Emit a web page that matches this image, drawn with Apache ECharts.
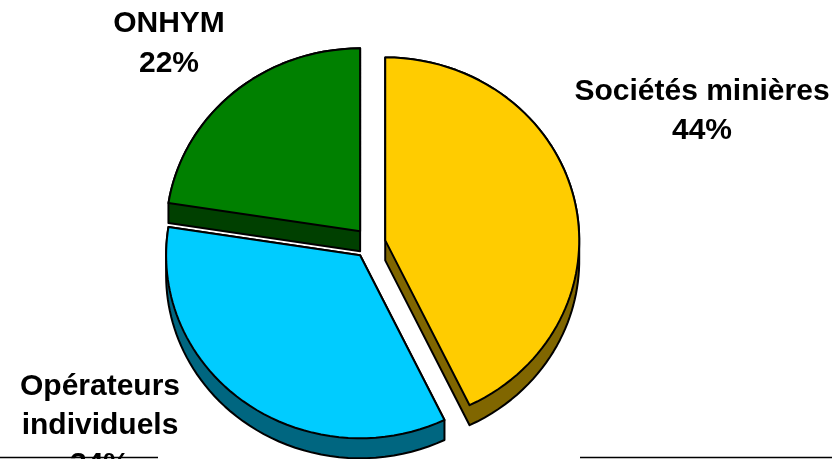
<!DOCTYPE html>
<html><head><meta charset="utf-8">
<script src="https://cdn.jsdelivr.net/npm/echarts@6/dist/echarts.min.js"></script>
<style>html,body{margin:0;padding:0;background:#fff}#c{width:832px;height:459px}</style>
</head><body><div id="c"></div>
<script>
// ---- data ----
const categories = ['Sociétés minières', 'Opérateurs\nindividuels', 'ONHYM'];
const values = [44, 34, 22];

// ---- layout / style ----
const layout = { cx: 370, cy: 243.3, rx: 194, ry: 183, depth: 20, explode: 15.5, persp: 0.82 };
const topColors = ['#FFCC00', '#00CCFF', '#008000'];
const sideColors = ['#806600', '#006680', '#004000'];
const labelPos = [[702, 111.5], [100, 425.5], [169, 43.5]];
const labelLineHeight = [39, 39, 40];

const total = values.reduce((a, b) => a + b, 0);

function hull(pts) {
  pts = pts.slice().sort((a, b) => a[0] - b[0] || a[1] - b[1]);
  const cross = (o, a, b) => (a[0] - o[0]) * (b[1] - o[1]) - (a[1] - o[1]) * (b[0] - o[0]);
  const lower = [], upper = [];
  for (const p of pts) {
    while (lower.length >= 2 && cross(lower[lower.length - 2], lower[lower.length - 1], p) <= 0) lower.pop();
    lower.push(p);
  }
  for (let i = pts.length - 1; i >= 0; i--) {
    const p = pts[i];
    while (upper.length >= 2 && cross(upper[upper.length - 2], upper[upper.length - 1], p) <= 0) upper.pop();
    upper.push(p);
  }
  return lower.slice(0, -1).concat(upper.slice(0, -1));
}

// map a true pie angle to the on-screen ellipse angle (3D tilt look)
function screenAngle(t) {
  return Math.atan2(Math.sin(t), layout.persp * Math.cos(t));
}

function sliceGeom(idx) {
  let before = 0;
  for (let i = 0; i < idx; i++) before += values[i];
  const a0 = before / total * Math.PI * 2;
  const a1 = (before + values[idx]) / total * Math.PI * 2;
  const mid = (a0 + a1) / 2;
  const cx = layout.cx + layout.explode * Math.sin(mid);
  const cy = layout.cy - layout.explode * Math.cos(mid);
  const pts = [[cx, cy]];
  const steps = Math.max(8, Math.ceil((a1 - a0) / (Math.PI * 2) * 160));
  for (let s = 0; s <= steps; s++) {
    const t = screenAngle(a0 + (a1 - a0) * s / steps);
    pts.push([cx + layout.rx * Math.sin(t), cy - layout.ry * Math.cos(t)]);
  }
  return { pts, cy };
}

const geoms = values.map((v, i) => sliceGeom(i));
const order = geoms.map((g, i) => i).sort((a, b) => geoms[a].cy - geoms[b].cy);
const rank = {};
order.forEach((idx, r) => { rank[idx] = r; });

const chart = echarts.init(document.getElementById('c'), null, { renderer: 'canvas' });
chart.setOption({
  backgroundColor: '#fff',
  animation: false,
  series: [{
    type: 'custom',
    coordinateSystem: 'none',
    data: values.map((v, i) => ({ name: categories[i], value: v })),
    renderItem: function (params, api) {
      const idx = params.dataIndex;
      const g = sliceGeom(idx);
      const all = g.pts.concat(g.pts.map(p => [p[0], p[1] + layout.depth]));
      const h = hull(all);
      const r = rank[idx];
      return {
        type: 'group',
        children: [
          { type: 'polygon', z2: r * 2, shape: { points: h },
            style: { fill: sideColors[idx], stroke: '#000', lineWidth: 2, lineJoin: 'round' } },
          { type: 'polygon', z2: r * 2 + 1, shape: { points: g.pts },
            style: { fill: topColors[idx], stroke: '#000', lineWidth: 2, lineJoin: 'round' } },
          { type: 'text', z2: 50,
            style: {
              text: categories[idx] + '\n' + api.value(0) + '%',
              x: labelPos[idx][0], y: labelPos[idx][1],
              fill: '#000', fontSize: 30, fontWeight: 'bold',
              fontFamily: '"Liberation Sans", Arial, sans-serif',
              align: 'center', verticalAlign: 'middle', lineHeight: labelLineHeight[idx]
            } }
        ]
      };
    }
  }],
  graphic: [
    { type: 'line', z: 100, shape: { x1: 0, y1: 457.5, x2: 158, y2: 457.5 }, style: { stroke: '#000', lineWidth: 1.5 } },
    { type: 'line', z: 100, shape: { x1: 580, y1: 457.5, x2: 832, y2: 457.5 }, style: { stroke: '#000', lineWidth: 1.5 } }
  ]
});
</script>
</body></html>
